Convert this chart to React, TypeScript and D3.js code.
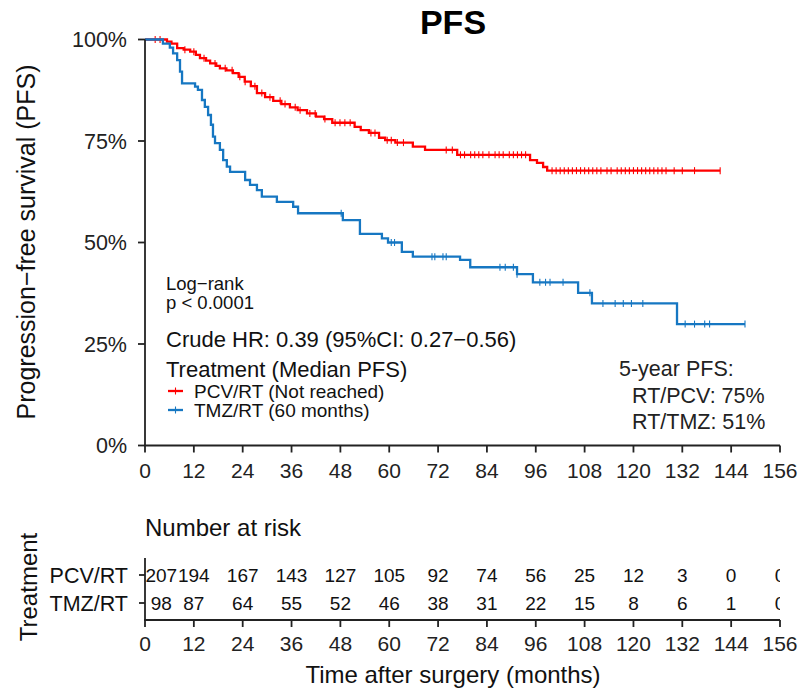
import React from "react";
import * as d3 from "d3";

// ---------- DATA ----------
const xTicks = [0, 12, 24, 36, 48, 60, 72, 84, 96, 108, 120, 132, 144, 156];
const yTicks = [0, 0.25, 0.5, 0.75, 1];
const yTickLabels = ["0%", "25%", "50%", "75%", "100%"];

const pcvTimes = [0, 5.4, 6.5, 7.9, 9.5, 11.1, 12.5, 13.5, 15, 16, 17.5, 18.4, 20, 21.6, 23, 24.5, 26, 27.5, 29.5, 31.5, 33.5, 35.6, 37.5, 39.8, 42, 44, 46, 51.5, 53, 55, 57.5, 59, 61.5, 65.8, 68.8, 76.7, 94.6, 96.3, 97.8, 98.8];
const pcvSurv = [1, 0.995, 0.99, 0.979, 0.975, 0.97, 0.962, 0.954, 0.948, 0.941, 0.935, 0.929, 0.924, 0.917, 0.908, 0.896, 0.885, 0.868, 0.858, 0.849, 0.841, 0.833, 0.826, 0.818, 0.81, 0.804, 0.795, 0.785, 0.777, 0.77, 0.758, 0.752, 0.746, 0.736, 0.728, 0.716, 0.703, 0.696, 0.686, 0.677];
const pcvEnd = 141.3;
const pcvCensor = [2.5, 3.7, 9.8, 12.0, 14.5, 17.2, 19.7, 21.4, 23.3, 24.6, 27.0, 28.7, 30.7, 33.2, 34.4, 36.9, 38.1, 40.5, 41.8, 44.2, 46.7, 47.9, 49.1, 50.4, 55.5, 56.5, 59.5, 60.5, 62, 63.5, 74, 75.5, 77.5, 78.5, 80, 81, 82, 83, 84.5, 86, 87, 88, 89.5, 90.5, 91.5, 92.5, 93.5, 100, 101, 102, 103, 104, 105, 106, 107, 108, 109, 110, 111, 112, 113.5, 114.5, 116, 117, 118, 119, 120, 121, 122, 123, 124, 125, 126, 127, 128, 130, 132, 135, 141.3];

const tmzTimes = [0, 4.4, 6.1, 6.9, 7.9, 8.6, 9.1, 12.3, 13.0, 14.0, 14.7, 15.5, 16.2, 16.7, 17.2, 18.4, 19.2, 20.1, 20.9, 24.6, 25.8, 27.5, 28.7, 32.4, 36.4, 37.6, 48.6, 52.8, 58.2, 59.7, 63.1, 65.8, 77.4, 79.9, 91.4, 95.3, 106.4, 109.8, 130.7];
const tmzSurv = [1, 0.99, 0.98, 0.966, 0.949, 0.921, 0.892, 0.884, 0.876, 0.851, 0.834, 0.814, 0.79, 0.761, 0.745, 0.728, 0.703, 0.687, 0.674, 0.654, 0.642, 0.629, 0.613, 0.6, 0.588, 0.572, 0.555, 0.521, 0.51, 0.5, 0.477, 0.465, 0.457, 0.439, 0.422, 0.402, 0.376, 0.35, 0.299];
const tmzEnd = 147.4;
const tmzCensor = [48.2, 60.5, 61.3, 70.5, 71.2, 73.2, 74, 87.2, 88.5, 90.5, 91.4, 97, 98.4, 99.5, 102.7, 109.3, 112.5, 115.5, 117.5, 119.5, 122.3, 132.7, 135, 137.5, 138.7, 147.4];

const riskTimes = [4, 12, 24, 36, 48, 60, 72, 84, 96, 108, 120, 132, 144, 156];
const pcvRisk = [207, 194, 167, 143, 127, 105, 92, 74, 56, 25, 12, 3, 0, 0];
const tmzRisk = [98, 87, 64, 55, 52, 46, 38, 31, 22, 15, 8, 6, 1, 0];

const groups = ["PCV/RT", "TMZ/RT"];
const legendLabels = ["PCV/RT (Not reached)", "TMZ/RT (60 months)"];
const fiveYear = ["5-year PFS:", "RT/PCV: 75%", "RT/TMZ: 51%"];

// ---------- STYLE ----------
const RED = "#ff0000";
const BLUE = "#1677c2";
const AX = "#222";
const FONT = "'Liberation Sans', Arial, sans-serif";

const W = 798, H = 689;

function stepAt(times: number[], surv: number[], t: number) {
  let v = surv[0];
  for (let i = 0; i < times.length; i++) if (times[i] <= t) v = surv[i];
  return v;
}

export default function App() {
  const x = d3.scaleLinear().domain([0, 156]).range([145, 780]);
  const y = d3.scaleLinear().domain([0, 1]).range([445.5, 39.5]);
  const line = d3.line<[number, number]>().x(d => x(d[0])).y(d => y(d[1])).curve(d3.curveStepAfter);

  const mk = (times: number[], surv: number[], end: number) => {
    const pts: [number, number][] = times.map((t, i) => [t, surv[i]]);
    pts.push([end, surv[surv.length - 1]]);
    return line(pts) || "";
  };

  const series = [
    { times: pcvTimes, surv: pcvSurv, end: pcvEnd, censor: pcvCensor, color: RED },
    { times: tmzTimes, surv: tmzSurv, end: tmzEnd, censor: tmzCensor, color: BLUE },
  ];

  const riskY = d3.scalePoint<string>().domain(groups).range([575, 603]);
  const riskAxisY = 620;

  return (
    <svg width={W} height={H} style={{ position: "absolute", left: 0, top: 0, background: "#fff" }} fontFamily={FONT}>
      <defs>
        <clipPath id="riskclip"><rect x={0} y={540} width={780} height={80} /></clipPath>
      </defs>
      <rect x={0} y={0} width={W} height={H} fill="#fff" />
      {/* title */}
      <text x={453} y={34} textAnchor="middle" fontSize={34} fontWeight="bold" fill="#000">PFS</text>

      {/* y axis title */}
      <text transform="translate(35,242) rotate(-90)" textAnchor="middle" fontSize={25} fill="#111">Progression−free survival (PFS)</text>

      {/* curves */}
      {series.map((s, i) => (
        <g key={i}>
          <path d={mk(s.times, s.surv, s.end)} fill="none" stroke={s.color} strokeWidth={2.3} />
          {s.censor.map((c, j) => {
            const cy = y(stepAt(s.times, s.surv, c));
            return <line key={j} x1={x(c)} x2={x(c)} y1={cy - 3.5} y2={cy + 3.5} stroke={s.color} strokeWidth={1.1} />;
          })}
        </g>
      ))}

      {/* y axis */}
      <line x1={145} x2={145} y1={y(1)} y2={y(0)} stroke={AX} strokeWidth={1.8} />
      {yTicks.map((t, i) => (
        <g key={i}>
          <line x1={138} x2={145} y1={y(t)} y2={y(t)} stroke={AX} strokeWidth={1.8} />
          <text x={127} y={y(t) + 7.5} textAnchor="end" fontSize={21.5} fill="#222">{yTickLabels[i]}</text>
        </g>
      ))}
      {/* x axis */}
      <line x1={144} x2={x(156)} y1={y(0)} y2={y(0)} stroke={AX} strokeWidth={1.8} />
      {xTicks.map((t, i) => (
        <g key={i}>
          <line x1={x(t)} x2={x(t)} y1={y(0)} y2={y(0) + 7} stroke={AX} strokeWidth={1.8} />
          <text x={x(t)} y={478} textAnchor="middle" fontSize={21} fill="#222">{t}</text>
        </g>
      ))}

      {/* annotations */}
      <text x={166} y={290} fontSize={18.5} fill="#111">Log−rank</text>
      <text x={166} y={309} fontSize={18.5} fill="#111">p &lt; 0.0001</text>
      <text x={166} y={347} fontSize={22} fill="#111">Crude HR: 0.39 (95%CI: 0.27−0.56)</text>
      <text x={166} y={377} fontSize={22} fill="#111">Treatment (Median PFS)</text>
      {legendLabels.map((l, i) => {
        const ly = 391 + i * 19;
        const col = series[i].color;
        return (
          <g key={i}>
            <line x1={168} x2={183} y1={ly} y2={ly} stroke={col} strokeWidth={2.3} />
            <line x1={175.5} x2={175.5} y1={ly - 3.5} y2={ly + 3.5} stroke={col} strokeWidth={1.1} />
            <text x={194} y={ly + 7} fontSize={19} fill="#111">{l}</text>
          </g>
        );
      })}
      <text x={619} y={376} fontSize={21.5} fill="#222">{fiveYear[0]}</text>
      <text x={632} y={403} fontSize={21.5} fill="#222">{fiveYear[1]}</text>
      <text x={632} y={429} fontSize={21.5} fill="#222">{fiveYear[2]}</text>

      {/* risk table */}
      <text x={145} y={536} fontSize={24} fill="#111">Number at risk</text>
      <text transform="translate(37,587) rotate(-90)" textAnchor="middle" fontSize={24} fill="#111">Treatment</text>
      <line x1={145} x2={145} y1={558} y2={riskAxisY} stroke={AX} strokeWidth={1.8} />
      {groups.map((g) => (
        <g key={g}>
          <line x1={139} x2={145} y1={riskY(g)!} y2={riskY(g)!} stroke={AX} strokeWidth={1.8} />
          <text x={128} y={riskY(g)! + 7.5} textAnchor="end" fontSize={21.5} fill="#111">{g}</text>
        </g>
      ))}
      <g clipPath="url(#riskclip)">
        {riskTimes.map((t, j) => (
          <g key={j}>
            <text x={x(t)} y={riskY(groups[0])! + 7} textAnchor="middle" fontSize={19} fill="#111">{pcvRisk[j]}</text>
            <text x={x(t)} y={riskY(groups[1])! + 7} textAnchor="middle" fontSize={19} fill="#111">{tmzRisk[j]}</text>
          </g>
        ))}
      </g>
      <line x1={144} x2={x(156)} y1={riskAxisY} y2={riskAxisY} stroke={AX} strokeWidth={1.8} />
      {xTicks.map((t, i) => (
        <g key={i}>
          <line x1={x(t)} x2={x(t)} y1={riskAxisY} y2={riskAxisY + 7} stroke={AX} strokeWidth={1.8} />
          <text x={x(t)} y={651} textAnchor="middle" fontSize={21} fill="#222">{t}</text>
        </g>
      ))}
      <text x={453} y={683} textAnchor="middle" fontSize={24} fill="#111">Time after surgery (months)</text>
    </svg>
  );
}
